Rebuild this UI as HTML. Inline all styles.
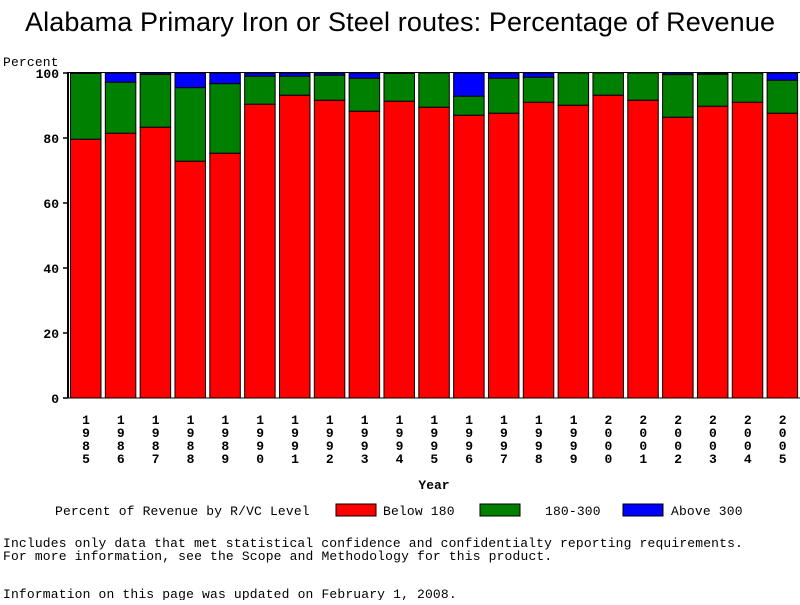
<!DOCTYPE html>
<html><head><style>
body{margin:0;background:#fff;}
svg text{font-family:"Liberation Mono",monospace;font-size:13px;font-weight:bold;fill:#000;}
.n{font-weight:normal;letter-spacing:0.16px}
</style></head><body>
<svg width="800" height="600" xmlns="http://www.w3.org/2000/svg">
<text x="400" y="31" text-anchor="middle" textLength="750" style="font-family:'Liberation Sans',sans-serif;font-size:27px;font-weight:normal">Alabama Primary Iron or Steel routes: Percentage of Revenue</text>
<text x="3" y="66" class="n">Percent</text>
<g id="bars" stroke="#000" stroke-width="1"></g>
<line x1="68" y1="72" x2="68" y2="398" stroke="#000" stroke-width="2"/>
<line x1="68" y1="398" x2="800" y2="398" stroke="#000" stroke-width="1"/>
<line x1="68" y1="72.5" x2="800" y2="72.5" stroke="#000" stroke-width="1"/>
<g stroke="#000" stroke-width="1.5">
<line x1="63" y1="398" x2="68" y2="398"/><line x1="63" y1="333" x2="68" y2="333"/><line x1="63" y1="268" x2="68" y2="268"/><line x1="63" y1="203" x2="68" y2="203"/><line x1="63" y1="138" x2="68" y2="138"/><line x1="63" y1="73" x2="68" y2="73"/>
</g>
<g text-anchor="end">
<text x="59" y="403">0</text><text x="59" y="338">20</text><text x="59" y="273">40</text><text x="59" y="208">60</text><text x="59" y="143">80</text><text x="59" y="78">100</text>
</g>
<g id="years" text-anchor="middle"></g>
<text x="434" y="489" text-anchor="middle">Year</text>
<text x="55" y="515" class="n">Percent of Revenue by R/VC Level</text>
<rect x="336" y="504" width="40" height="12" fill="#f00" stroke="#000"/>
<text x="383" y="515" class="n">Below 180</text>
<rect x="480" y="504" width="40" height="12" fill="#008000" stroke="#000"/>
<text x="545" y="515" class="n">180-300</text>
<rect x="623" y="504" width="40" height="12" fill="#00f" stroke="#000"/>
<text x="671" y="515" class="n">Above 300</text>
<text x="3" y="547" class="n" textLength="740">Includes only data that met statistical confidence and confidentialty reporting requirements.</text>
<text x="3" y="560" class="n">For more information, see the Scope and Methodology for this product.</text>
<text x="3" y="598" class="n">Information on this page was updated on February 1, 2008.</text>
</svg>
<script>
var d=[[73.5,139.3],[82.3,133.3],[74.5,127.3],[87.7,161.3],[83.7,153.3],[76.3,104.3],[76.3,95.3],[75.3,100.3],[78.3,111.3],[73.5,101.3],[73,107.3],[96.3,115.3],[78.3,113.3],[77.3,102.3],[73,105.3],[73,95.3],[73,100.3],[74.7,117.3],[74.3,106.3],[73,102.3],[80.3,113.3]];
var yrs=["1985","1986","1987","1988","1989","1990","1991","1992","1993","1994","1995","1996","1997","1998","1999","2000","2001","2002","2003","2004","2005"];
var ns="http://www.w3.org/2000/svg",g=document.getElementById("bars"),yg=document.getElementById("years");
function r(x,y,w,h,c){var e=document.createElementNS(ns,"rect");e.setAttribute("x",x);e.setAttribute("y",y);e.setAttribute("width",w);e.setAttribute("height",h);e.setAttribute("fill",c);g.appendChild(e);}
d.forEach(function(b,i){var x=70.5+i*34.83;
r(x,73,30.5,b[0]-73,"#00f");r(x,b[0],30.5,b[1]-b[0],"#008000");r(x,b[1],30.5,398-b[1],"#f00");
for(var k=0;k<4;k++){var t=document.createElementNS(ns,"text");t.setAttribute("x",x+15.5);t.setAttribute("y",424+k*13);t.textContent=yrs[i][k];yg.appendChild(t);}
});
</script>
</body></html>
